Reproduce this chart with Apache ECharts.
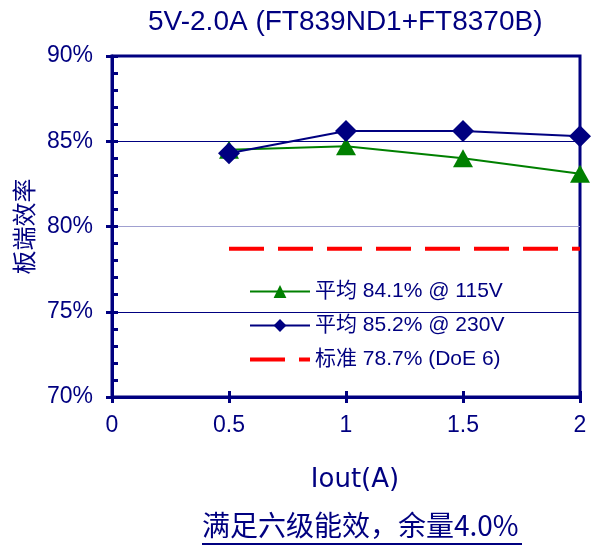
<!DOCTYPE html>
<html>
<head>
<meta charset="utf-8">
<script src="https://cdn.jsdelivr.net/npm/echarts@6/dist/echarts.min.js"></script>
<style>
html,body{margin:0;padding:0;background:#fff;}
#chart{width:595px;height:548px;}
</style>
</head>
<body>
<div id="chart"></div>
<script>
const titleText = '5V-2.0A (FT839ND1+FT8370B)';
const footText = '满足六级能效，余量4.0%';
const xName = 'Iout(A)';
const yName = '板端效率';
const iout = [0.5, 1, 1.5, 2];
const eff115 = [84.5, 84.7, 84.0, 83.1];
const eff230 = [84.3, 85.6, 85.6, 85.3];
const doe6 = [78.7, 78.7, 78.7, 78.7];
const name115 = '平均 84.1% @ 115V';
const name230 = '平均 85.2% @ 230V';
const nameDoe = '标准 78.7% (DoE 6)';

const NAVY = '#000080';
const latin = '"Liberation Sans", Arial, "Noto Sans CJK SC", sans-serif';
const cjk = '"Noto Sans CJK SC", "Liberation Sans", sans-serif';

function pairs(xs, ys){ return xs.map((x,i)=>[x, ys[i]]); }

const chart = echarts.init(document.getElementById('chart'), null, {renderer:'canvas'});
chart.setOption({
  animation:false,
  backgroundColor:'#fff',
  title:{
    text:titleText, left:143, top:3,
    textStyle:{color:NAVY, fontSize:28, fontWeight:'normal', fontFamily:latin}
  },
  grid:{left:112, right:15, top:56, bottom:151, show:true, borderColor:NAVY, borderWidth:3, backgroundColor:'transparent'},
  legend:{
    orient:'vertical', left:243, top:276, itemWidth:60, itemHeight:16, itemGap:13,
    textStyle:{color:NAVY, fontSize:21, fontFamily:latin},
    data:[
      {name:name115, lineStyle:{width:2}},
      {name:name230, lineStyle:{width:2}},
      {name:nameDoe, itemStyle:{opacity:0}, lineStyle:{width:4, type:[35,14]}}
    ]
  },
  xAxis:[{
    type:'value', min:0, max:2, interval:0.5, position:'bottom',
    name:xName, nameLocation:'middle', nameGap:70,
    nameTextStyle:{color:NAVY, fontSize:26, fontFamily:'"DejaVu Sans", sans-serif', padding:[0,0,0,18]},
    axisLine:{show:true, onZero:false, lineStyle:{color:NAVY, width:3}},
    axisTick:{show:true, length:6, lineStyle:{color:NAVY, width:3}},
    axisLabel:{color:NAVY, fontSize:23, fontFamily:latin, margin:17},
    splitLine:{show:false}
  },{
    type:'value', min:0, max:2, interval:0.5, position:'bottom', offset:0,
    axisLine:{show:false},
    axisTick:{show:true, inside:true, length:6, lineStyle:{color:NAVY, width:3}},
    axisLabel:{show:false}, splitLine:{show:false}
  }],
  yAxis:[{
    type:'value', min:70, max:90, interval:5, position:'left',
    name:yName, nameLocation:'middle', nameGap:75, nameRotate:90,
    nameTextStyle:{color:NAVY, fontSize:24, fontFamily:cjk},
    axisLine:{show:true, onZero:false, lineStyle:{color:NAVY, width:3}},
    axisTick:{show:true, length:6, lineStyle:{color:NAVY, width:3}},
    axisLabel:{color:NAVY, fontSize:23, fontFamily:latin, margin:19, formatter:'{value}%'},
    splitLine:{show:true, lineStyle:{color:[NAVY, NAVY, '#a0a0d0', NAVY, NAVY], width:1}}
  },{
    type:'value', min:70, max:90, interval:5, position:'left', offset:0,
    axisLine:{show:false},
    axisTick:{show:true, inside:true, length:6, lineStyle:{color:NAVY, width:3}},
    minorTick:{show:true, splitNumber:5, length:6, lineStyle:{color:NAVY, width:3}},
    axisLabel:{show:false}, splitLine:{show:false}
  }],
  series:[{
    name:name115, type:'line', data:pairs(iout, eff115),
    symbol:'triangle', symbolSize:[20,18],
    lineStyle:{color:'#008000', width:2}, itemStyle:{color:'#008000'}, z:3
  },{
    name:name230, type:'line', data:pairs(iout, eff230),
    symbol:'diamond', symbolSize:22,
    lineStyle:{color:NAVY, width:2}, itemStyle:{color:NAVY}, z:4
  },{
    name:nameDoe, type:'line', data:pairs(iout, doe6),
    symbol:'none',
    lineStyle:{color:'#ff0000', width:4, type:[35,14]}, itemStyle:{color:'#ff0000'}, z:2
  }],
  graphic:[{
    type:'text', left:202, top:511,
    style:{text:footText, fill:NAVY, fontSize:28, fontFamily:cjk}
  },{
    type:'line', shape:{x1:202, y1:544, x2:522, y2:544},
    style:{stroke:NAVY, lineWidth:2}
  }]
});
</script>
</body>
</html>
